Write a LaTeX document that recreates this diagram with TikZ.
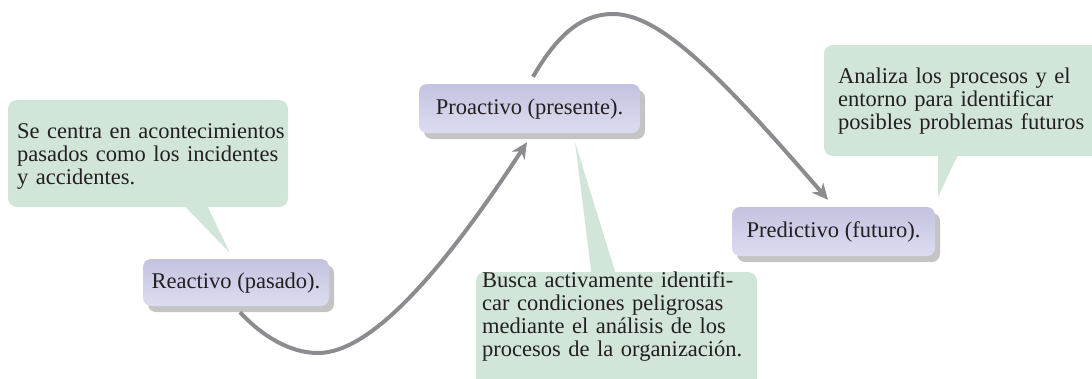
\documentclass[tikz,border=0pt]{standalone}
\usepackage{fontspec}
\setmainfont{Liberation Serif}
\usetikzlibrary{arrows.meta,shadows,calc}
\definecolor{callgreen}{HTML}{D2E5D9}
\definecolor{boxtop}{HTML}{C3C3E1}
\definecolor{boxbot}{HTML}{DCDCF0}
\definecolor{shadowgray}{HTML}{C4C4C4}
\definecolor{arrowgray}{HTML}{8C8C90}
\definecolor{txt}{HTML}{231F20}
\begin{document}
\begin{tikzpicture}[x=1pt,y=-1pt,
  stagebox/.style={rounded corners=8pt, top color=boxtop, bottom color=boxbot, draw=none, inner sep=0pt,
    text=txt, font=\fontsize{22.5}{23}\selectfont, text height=14pt, text depth=2pt,
    drop shadow={shadow xshift=5pt, shadow yshift=-6pt, fill=shadowgray, opacity=1}},
  calloutbox/.style={rounded corners=9pt, fill=callgreen, draw=none, inner sep=0pt},
  callouttail/.style={fill=callgreen, draw=none},
  callouttext/.style={anchor=base west, inner sep=0pt, text width=400pt, align=left, text=txt,
    font=\fontsize{22.5}{23}\selectfont},
  flow/.style={draw=arrowgray, line width=4pt, -{Stealth[length=16pt,width=15pt,inset=5pt]}}
]
\clip (0,0) rectangle (1092,378);

% callout boxes
\node[calloutbox, minimum width=280pt, minimum height=107pt] (cpast) at (148,153.5) {};
\node[calloutbox, minimum width=281pt, minimum height=128pt] (cpres) at (616.5,336) {};
\node[calloutbox, minimum width=286pt, minimum height=111pt] (cfut) at (967,100.5) {};

% callout tails
\coordinate (cpasttip) at (230,253);
\coordinate (cprestip) at (575,142);
\coordinate (cfuttip) at (938,197);
\fill[callouttail] ([xshift=32pt,yshift=6pt]cpast.south) -- ([xshift=57pt,yshift=6pt]cpast.south) -- (cpasttip) -- cycle;
\fill[callouttail] ([xshift=-24.5pt,yshift=-6pt]cpres.north) -- ([xshift=0.5pt,yshift=-6pt]cpres.north) -- (cprestip) -- cycle;
\fill[callouttail] ([xshift=-29pt,yshift=6pt]cfut.south) -- ([xshift=-7pt,yshift=6pt]cfut.south) -- (cfuttip) -- cycle;

% callout texts
\node[callouttext] (tpast) at (17,138) {Se centra en acontecimientos\\pasados como los incidentes\\y accidentes.};
\node[callouttext] (tpres) at (482,287) {Busca activamente identifi-\\car condiciones peligrosas\\mediante el análisis de los\\procesos de la organización.};
\node[callouttext] (tfut) at (838,83) {Analiza los procesos y el\\entorno para identificar\\posibles problemas futuros};

% stage boxes
\node[stagebox, minimum width=186pt, minimum height=47pt] (reac) at (236,282.5) {Reactivo (pasado).};
\node[stagebox, minimum width=221pt, minimum height=49pt] (proa) at (529.5,108.5) {Proactivo (presente).};
\node[stagebox, minimum width=203pt, minimum height=49pt] (pred) at (833.5,231.5) {Predictivo (futuro).};

% connectors
\draw[flow] ($(reac.south)+(4,6)$) .. controls (262,336) and (290,353) .. (318,353)
  .. controls (368,353) and (437,280) .. ($(proa.south)+(-2.5,9)$);
\draw[flow] ($(proa.north)+(3.5,-7)$) .. controls (560,30) and (585,14) .. (613,14)
  .. controls (660,14) and (720,75) .. ($(pred.north)+(-5.5,-7)$);
\end{tikzpicture}
\end{document}
